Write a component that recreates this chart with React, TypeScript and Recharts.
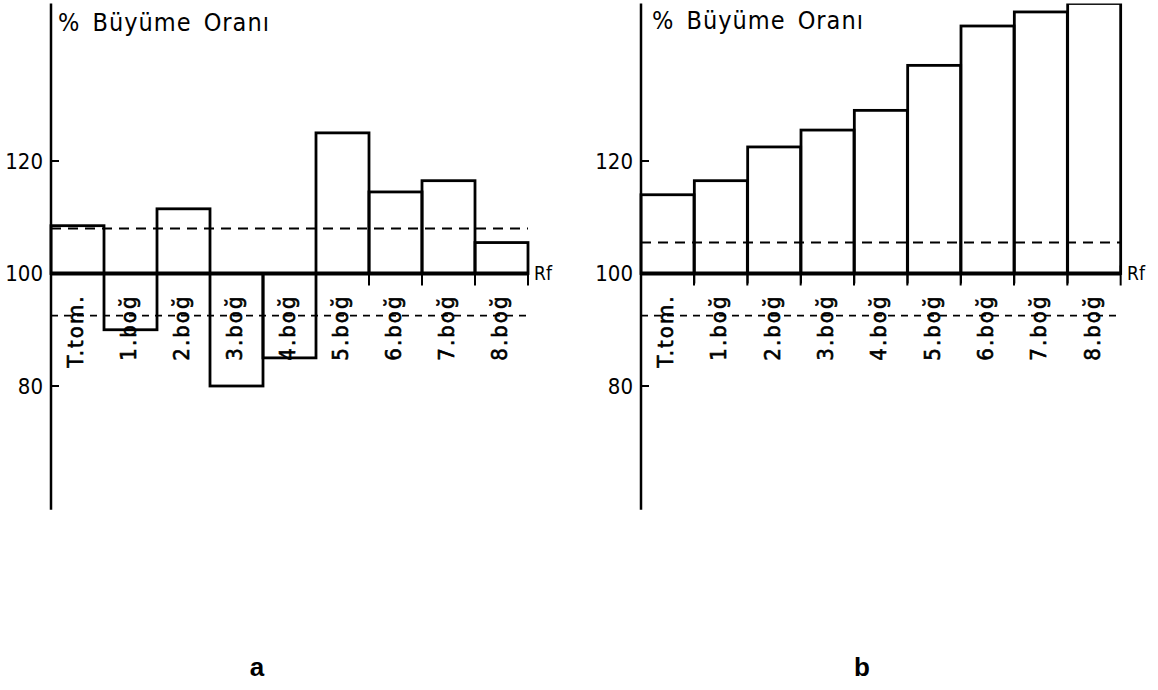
import React from "react"
import { BarChart, Bar, XAxis, YAxis, ReferenceLine } from "recharts"

const categories = ["T.tom.", "1.boğ", "2.boğ", "3.boğ", "4.boğ", "5.boğ", "6.boğ", "7.boğ", "8.boğ"]
const growthA = [108.5, 90, 111.5, 80, 85, 125, 114.5, 116.5, 105.5]
const growthB = [114, 116.5, 122.5, 125.5, 129, 137, 144, 146.5, 148]
const refValue = 100
const limitsA = { upper: 108, lower: 92.5 }
const limitsB = { upper: 105.5, lower: 92.5 }
const yTicks = [80, 100, 120]
const yDomain: [number, number] = [58, 148]
const axisTitle = "% Büyüme Oranı"

const narrow = "'DejaVu Sans Condensed', 'Liberation Sans Narrow', sans-serif"
const regular = "'Liberation Sans', Arial, sans-serif"

// bars float between the reference level and their own value
const toRows = (values: number[]) =>
  categories.map((name, i) => ({ name, range: [refValue, values[i]] }))

const YTick = (props: any) => {
  const { x, y, payload } = props
  return (
    <g>
      <line x1={x + 8} y1={y} x2={x + 16} y2={y} stroke="#000" strokeWidth={2} />
      <text
        x={x}
        y={y}
        textAnchor="end"
        dominantBaseline="central"
        fontSize={22}
        fontFamily={narrow}
        fill="#000"
      >
        {payload.value}
      </text>
    </g>
  )
}

const BarShape = (props: any) => {
  const { x, y, width, height, index } = props
  const base = y + height
  const top = Math.min(y, base)
  const h = Math.abs(height)
  const right = x + width
  const last = index === categories.length - 1
  const lx = x + width / 2 - 2
  const ly = base + 21
  return (
    <g>
      <rect x={x} y={top} width={width} height={h} fill="none" stroke="#000" strokeWidth={2.8} />
      <line x1={x} y1={base} x2={x} y2={base + 10} stroke="#000" strokeWidth={2} />
      <line x1={right} y1={last ? base - 8 : base} x2={right} y2={base + 12} stroke="#000" strokeWidth={2} />
      <text
        x={lx}
        y={ly}
        transform={`rotate(-90 ${lx} ${ly})`}
        textAnchor="end"
        dominantBaseline="central"
        fontSize={22}
        letterSpacing={2}
        fontFamily={narrow}
        fill="#000"
        stroke="#000"
        strokeWidth={0.6}
      >
        {categories[index]}
      </text>
    </g>
  )
}

const GrowthPanel = ({
  values,
  limits,
  left,
  width,
}: {
  values: number[]
  limits: { upper: number; lower: number }
  left: number
  width: number
}) => (
  <div style={{ position: "absolute", left, top: 0 }}>
    <BarChart
      width={width}
      height={520}
      data={toRows(values)}
      margin={{ top: 3.5, right: 32, left: 0, bottom: 10.25 }}
      barCategoryGap={0}
      barGap={0}
    >
      <XAxis dataKey="name" hide />
      <YAxis
        type="number"
        domain={yDomain}
        ticks={yTicks}
        interval={0}
        width={51}
        allowDataOverflow
        axisLine={{ stroke: "#000", strokeWidth: 2.5 }}
        tickLine={false}
        tickSize={0}
        tickMargin={8}
        tick={<YTick />}
      />
      <Bar dataKey="range" shape={<BarShape />} isAnimationActive={false} />
      <ReferenceLine
        y={refValue}
        stroke="#000"
        strokeWidth={4}
        label={{ value: "Rf", position: "right", offset: 6, fill: "#000", fontSize: 19, fontFamily: narrow }}
      />
      <ReferenceLine y={limits.upper} stroke="#000" strokeWidth={2} strokeDasharray="10 7" />
      <ReferenceLine y={limits.lower} stroke="#000" strokeWidth={1.8} strokeDasharray="7 6" />
    </BarChart>
  </div>
)

export default function App() {
  return (
    <div style={{ position: "absolute", left: 0, top: 0, width: 1158, height: 690, background: "#fff" }}>
      <GrowthPanel values={growthA} limits={limitsA} left={0} width={560} />
      <GrowthPanel values={growthB} limits={limitsB} left={590} width={563} />
      <svg
        width={1158}
        height={690}
        style={{ position: "absolute", left: 0, top: 0, pointerEvents: "none" }}
      >
        <text x={58} y={31} fontSize={25} letterSpacing={1} wordSpacing={4} fontFamily={narrow} fill="#000">
          {axisTitle}
        </text>
        <text x={652} y={29} fontSize={25} letterSpacing={1} wordSpacing={4} fontFamily={narrow} fill="#000">
          {axisTitle}
        </text>
        <text x={257} y={676} textAnchor="middle" fontSize={26} fontWeight="bold" fontFamily={regular} fill="#000">
          a
        </text>
        <text x={862} y={676} textAnchor="middle" fontSize={26} fontWeight="bold" fontFamily={regular} fill="#000">
          b
        </text>
      </svg>
    </div>
  )
}
